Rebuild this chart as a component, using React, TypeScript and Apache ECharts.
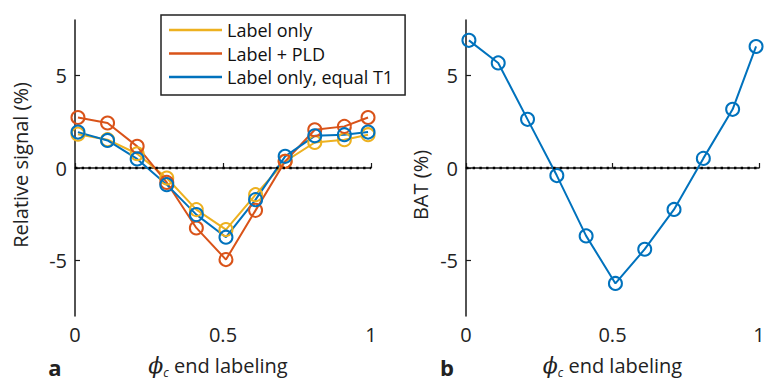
import React, { useEffect, useRef } from "react";
import * as echarts from "echarts";

const phiValues = [0.01, 0.11, 0.21, 0.31, 0.41, 0.51, 0.61, 0.71, 0.81, 0.91, 0.99];
const labelOnly = [1.83, 1.53, 0.77, -0.54, -2.25, -3.33, -1.44, 0.36, 1.38, 1.53, 1.8];
const labelPLD = [2.73, 2.43, 1.17, -0.78, -3.24, -4.95, -2.29, 0.36, 2.07, 2.25, 2.73];
const labelEqualT1 = [1.94, 1.49, 0.49, -0.9, -2.52, -3.74, -1.71, 0.63, 1.74, 1.8, 1.94];
const batValues = [6.9, 5.68, 2.63, -0.41, -3.67, -6.24, -4.39, -2.24, 0.52, 3.17, 6.57];
const yTicks = [-5, 0, 5];
const xTicks = [0, 0.5, 1];
const seriesNames = ["Label only", "Label + PLD", "Label only, equal T1"];

const YELLOW = "#EDB120";
const ORANGE = "#D95319";
const BLUE = "#0072BD";
const FONT = "Open Sans";
const AX = "#1a1a1a";

const zip = (xs: number[], ys: number[]) => xs.map((x, i) => [x, ys[i]]);

function makeX(gridIndex: number, extraPad: number) {
  return {
    type: "value",
    gridIndex,
    min: 0,
    max: 1,
    interval: 0.5,
    axisLine: { show: true, lineStyle: { color: AX, width: 1.5 } },
    axisTick: { show: true, inside: true, length: 5, lineStyle: { color: AX, width: 1.2 }, customValues: xTicks },
    axisLabel: { fontSize: 20, color: "#222", fontFamily: FONT, margin: 8, customValues: xTicks },
    splitLine: { show: false },
    name: "{p|\u03D5}{s|c}{t| end labeling}",
    nameLocation: "middle",
    nameGap: 36,
    nameTextStyle: {
      rich: {
        p: { fontSize: 22, fontStyle: "italic", fontFamily: "DejaVu Serif", color: "#222", lineHeight: 26, verticalAlign: "middle" },
        s: { fontSize: 12, fontStyle: "italic", fontFamily: FONT, color: "#222", lineHeight: 12, verticalAlign: "bottom" },
        t: { fontSize: 20, fontFamily: FONT, color: "#222", lineHeight: 26, verticalAlign: "middle", padding: [0, extraPad, 0, 0] },
      },
    },
  };
}

function makeY(gridIndex: number) {
  return {
    type: "value",
    gridIndex,
    min: -8,
    max: 8,
    axisLine: { show: true, lineStyle: { color: AX, width: 1.5 } },
    axisTick: { show: true, inside: true, length: 5, lineStyle: { color: AX, width: 1.2 }, customValues: yTicks },
    axisLabel: { fontSize: 20, color: "#222", fontFamily: FONT, margin: 8, customValues: yTicks },
    splitLine: { show: false },
  };
}

function lineSeries(name: string, color: string, data: number[], idx: number, withZero: boolean) {
  const s: any = {
    name,
    type: "line",
    xAxisIndex: idx,
    yAxisIndex: idx,
    data: zip(phiValues, data),
    symbol: "circle",
    symbolSize: 13,
    itemStyle: { color: "rgba(0,0,0,0)", borderColor: color, borderWidth: 2 },
    lineStyle: { color, width: 2 },
    emphasis: { disabled: true },
  };
  if (withZero) {
    s.markLine = {
      silent: true,
      symbol: "none",
      label: { show: false },
      emphasis: { disabled: true },
      lineStyle: { color: "#000", width: 2.4, type: [2.4, 4.3], dashOffset: 0 },
      data: [{ yAxis: 0 }],
    };
  }
  return s;
}

export default function App() {
  const ref = useRef<HTMLDivElement>(null);
  useEffect(() => {
    document.body.style.margin = "0";
    const chart = echarts.init(ref.current!, undefined, { renderer: "svg" });
    chart.setOption({
      animation: false,
      backgroundColor: "#fff",
      grid: [
        { left: 75, right: 394, top: 20, bottom: 65, outerBoundsMode: "none", containLabel: false },
        { left: 466, right: 6, top: 20, bottom: 65, outerBoundsMode: "none", containLabel: false },
      ],
      xAxis: [makeX(0, 10), makeX(1, 0)],
      yAxis: [makeY(0), makeY(1)],
      legend: {
        left: 161,
        top: 15,
        orient: "vertical",
        selectedMode: false,
        icon: "rect",
        itemWidth: 53,
        itemHeight: 2.5,
        itemGap: 3.5,
        borderColor: "#222",
        borderWidth: 1.5,
        padding: [5, 12, 8, 8],
        backgroundColor: "#fff",
        textStyle: { fontSize: 18, color: "#111", fontFamily: FONT, lineHeight: 20 },
        data: [
          { name: seriesNames[0], itemStyle: { color: YELLOW, borderWidth: 0 } },
          { name: seriesNames[1], itemStyle: { color: ORANGE, borderWidth: 0 } },
          { name: seriesNames[2], itemStyle: { color: BLUE, borderWidth: 0 } },
        ],
      },
      graphic: [
        {
          type: "text",
          x: 20,
          y: 165,
          rotation: Math.PI / 2,
          style: { text: "Relative signal (%)", fontSize: 20, fontFamily: FONT, fill: "#222", textAlign: "center", textVerticalAlign: "middle", align: "center", verticalAlign: "middle" },
        },
        {
          type: "text",
          x: 420,
          y: 185,
          rotation: Math.PI / 2,
          style: { text: "BAT (%)", fontSize: 20, fontFamily: FONT, fill: "#222", textAlign: "center", textVerticalAlign: "middle", align: "center", verticalAlign: "middle" },
        },
        {
          type: "text",
          x: 55,
          y: 367,
          style: { text: "a", fontSize: 22, fontWeight: "bold", fontFamily: FONT, fill: "#222", textAlign: "center", textVerticalAlign: "middle", align: "center", verticalAlign: "middle" },
        },
        {
          type: "text",
          x: 447,
          y: 367,
          style: { text: "b", fontSize: 22, fontWeight: "bold", fontFamily: FONT, fill: "#222", textAlign: "center", textVerticalAlign: "middle", align: "center", verticalAlign: "middle" },
        },
      ],
      series: [
        lineSeries(seriesNames[0], YELLOW, labelOnly, 0, true),
        lineSeries(seriesNames[1], ORANGE, labelPLD, 0, false),
        lineSeries(seriesNames[2], BLUE, labelEqualT1, 0, false),
        lineSeries("BAT", BLUE, batValues, 1, true),
      ],
    });
    return () => chart.dispose();
  }, []);
  return <div ref={ref} style={{ width: 765, height: 381 }} />;
}
